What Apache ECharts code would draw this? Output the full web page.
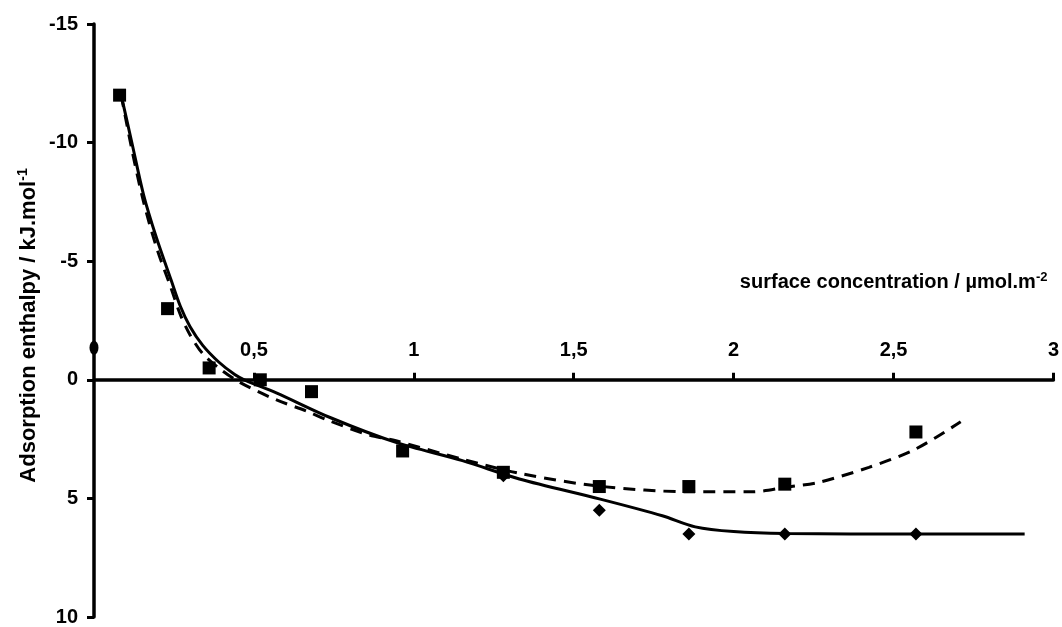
<!DOCTYPE html>
<html>
<head>
<meta charset="utf-8">
<script src="https://cdn.jsdelivr.net/npm/echarts@6/dist/echarts.min.js"></script>
<style>
html,body{margin:0;padding:0;background:#fff;}
#chart{width:1062px;height:627px;}
</style>
</head>
<body>
<div id="chart"></div>
<script>
// Measured squares (surface concentration, enthalpy)
const squareX = [0.08, 0.23, 0.36, 0.52, 0.68, 0.965, 1.28, 1.58, 1.86, 2.16, 2.57];
const squareY = [-12.0, -3.0, -0.5, 0.0, 0.5, 3.0, 3.9, 4.5, 4.5, 4.4, 2.2];
// Measured diamonds
const diamondX = [1.28, 1.58, 1.86, 2.16, 2.57];
const diamondY = [4.05, 5.5, 6.5, 6.5, 6.5];
// Point on the vertical axis
const axisPointX = [0];
const axisPointY = [-1.35];
// Solid fit curve
const solidX = [0.085, 0.12, 0.155, 0.195, 0.24, 0.27, 0.30, 0.34, 0.39, 0.44, 0.47, 0.57, 0.74, 0.944, 1.152, 1.33, 1.583, 1.777, 1.88, 2.0, 2.163, 2.569, 2.91];
const solidY = [-12.0, -9.9, -7.8, -6.0, -4.25, -3.1, -2.25, -1.45, -0.75, -0.22, 0.0, 0.55, 1.6, 2.64, 3.41, 4.18, 5.03, 5.73, 6.2, 6.4, 6.48, 6.5, 6.5];
// Dashed fit curve
const dashedX = [0.085, 0.12, 0.155, 0.195, 0.24, 0.27, 0.30, 0.34, 0.39, 0.455, 0.569, 0.663, 0.736, 0.861, 0.944, 1.152, 1.34, 1.583, 1.861, 2.059, 2.163, 2.267, 2.423, 2.569, 2.71];
const dashedY = [-12.0, -9.6, -7.5, -5.6, -3.9, -2.75, -1.9, -1.1, -0.5, 0.1, 0.84, 1.31, 1.73, 2.33, 2.57, 3.35, 3.97, 4.49, 4.72, 4.72, 4.53, 4.32, 3.69, 2.92, 1.77];
// Axis ticks
const xMin = 0, xMax = 3, xStep = 0.5;
const yMin = -15, yMax = 10, yStep = 5;
const xTitle = 'surface concentration / µmol.m';
const xTitleSup = '-2';
const yTitle = 'Adsorption enthalpy / kJ.mol';
const yTitleSup = '-1';

const zip = (a, b) => a.map((v, i) => [v, b[i]]);
const FONT = 'Liberation Sans';

const W = 1062, H = 627;
const G = {left: 94, right: 8, top: 24, bottom: 10};
const gridH = H - G.top - G.bottom;
const zeroPx = G.top + gridH * (0 - yMin) / (yMax - yMin);
const xAxisOffset = -((H - G.bottom) - zeroPx);

const chart = echarts.init(document.getElementById('chart'), null, {renderer: 'canvas'});
chart.setOption({
  backgroundColor: '#fff',
  animation: false,
  grid: G,
  xAxis: {
    type: 'value', min: xMin, max: xMax, interval: xStep,
    position: 'bottom', offset: xAxisOffset,
    axisLine: {onZero: false, lineStyle: {color: '#000', width: 3.5}},
    axisTick: {show: true, inside: true, length: 7, lineStyle: {color: '#000', width: 3}},
    axisLabel: {
      inside: true, margin: 19, color: '#000', fontFamily: FONT, fontWeight: 'bold', fontSize: 20,
      showMinLabel: false, showMaxLabel: true,
      formatter: v => v === 0 ? '' : String(v).replace('.', ',')
    },
    splitLine: {show: false},
    name: '{a|' + xTitle + '}{s|' + xTitleSup + '}',
    nameLocation: 'end',
    nameGap: -6,
    nameTextStyle: {
      align: 'right', verticalAlign: 'bottom', padding: [0, 0, 85, 0],
      rich: {
        a: {fontFamily: FONT, fontWeight: 'bold', fontSize: 20, color: '#000', lineHeight: 24},
        s: {fontFamily: FONT, fontWeight: 'bold', fontSize: 13, color: '#000', lineHeight: 13, verticalAlign: 'top'}
      }
    }
  },
  yAxis: {
    type: 'value', min: yMin, max: yMax, interval: yStep, inverse: true,
    axisLine: {show: true, onZero: false, lineStyle: {color: '#000', width: 3.5}},
    axisTick: {show: true, inside: false, length: 7, lineStyle: {color: '#000', width: 3}},
    axisLabel: {margin: 16, color: '#000', fontFamily: FONT, fontWeight: 'bold', fontSize: 20},
    splitLine: {show: false},
    name: '{a|' + yTitle + '}{s|' + yTitleSup + '}',
    nameLocation: 'middle',
    nameGap: 52,
    nameMoveOverlap: false,
    nameRotate: 90,
    nameTextStyle: {
      padding: [0, 10, 0, 0],
      rich: {
        a: {fontFamily: FONT, fontWeight: 'bold', fontSize: 22, color: '#000', lineHeight: 26},
        s: {fontFamily: FONT, fontWeight: 'bold', fontSize: 14, color: '#000', lineHeight: 14, verticalAlign: 'top'}
      }
    }
  },
  series: [
    {
      name: 'solid fit', type: 'line', data: zip(solidX, solidY), smooth: 0.3,
      showSymbol: false, symbol: 'none', clip: false,
      lineStyle: {color: '#000', width: 3, type: 'solid'}, z: 2
    },
    {
      name: 'dashed fit', type: 'line', data: zip(dashedX, dashedY), smooth: 0.3,
      showSymbol: false, symbol: 'none', clip: false,
      lineStyle: {color: '#000', width: 3, type: [12, 8]}, z: 2
    },
    {
      name: 'diamonds', type: 'scatter', data: zip(diamondX, diamondY),
      symbol: 'diamond', symbolSize: [13, 13], itemStyle: {color: '#000', opacity: 1}, z: 3
    },
    {
      name: 'squares', type: 'scatter', data: zip(squareX, squareY),
      symbol: 'rect', symbolSize: 13, itemStyle: {color: '#000', opacity: 1}, z: 4
    },
    {
      name: 'axis point', type: 'scatter', data: zip(axisPointX, axisPointY), clip: false,
      symbol: 'circle', symbolSize: [9, 14], itemStyle: {color: '#000', opacity: 1}, z: 5
    }
  ]
});
</script>
</body>
</html>
